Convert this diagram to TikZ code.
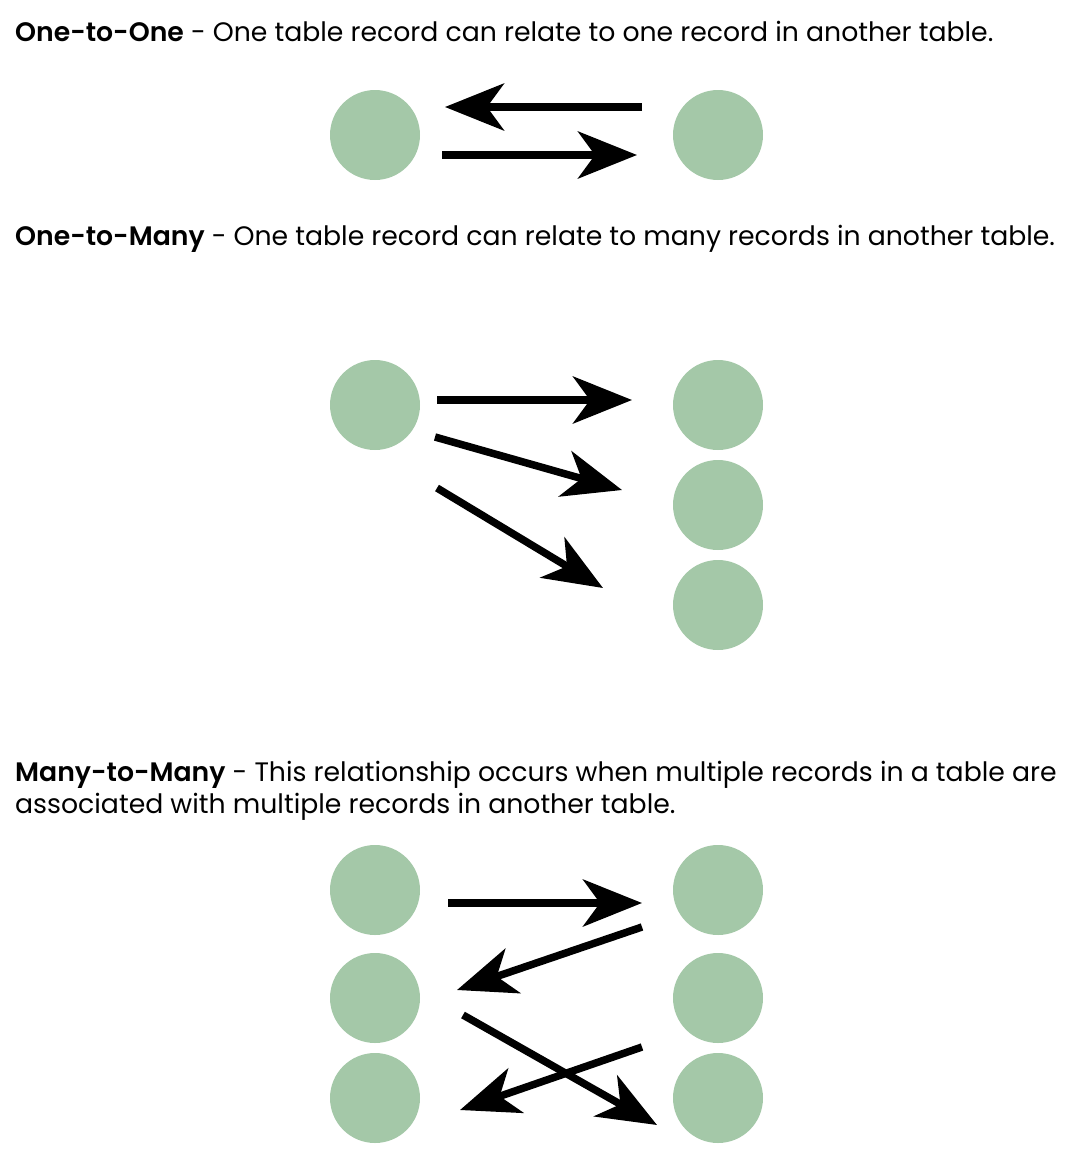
\documentclass[tikz,border=0pt]{standalone}
\usepackage{fontspec}
\setmainfont{Poppins}[BoldFont={Poppins SemiBold}]
\usetikzlibrary{arrows.meta}
\definecolor{rec}{RGB}{164,200,168}
\begin{document}
\begin{tikzpicture}[x=1pt,y=-1pt,
  recnode/.style={circle,fill=rec,minimum size=90pt,inner sep=0pt},
  rel/.style={line width=7.5pt,-{Stealth[length=59pt,width=47pt,inset=17pt]}},
  caption/.style={anchor=base west,inner sep=0pt,font=\fontsize{26.7}{32}\selectfont}]
\useasboundingbox (0,0) rectangle (1092,1152);
% texts
\node[caption] (t1) at (15,41) {\textbf{One-to-One} - One table record can relate to one record in another table.};
\node[caption] (t2) at (15,245) {\textbf{One-to-Many} - One table record can relate to many records in another table.};
\node[caption] (t3) at (15,781) {\textbf{Many-to-Many} - This relationship occurs when multiple records in a table are};
\node[caption] (t4) at (15,813) {associated with multiple records in another table.};
% one-to-one
\node[recnode] (a1) at (375,135) {};
\node[recnode] (b1) at (718,135) {};
\coordinate (a1t) at (445,107); \coordinate (b1t) at (642,107);
\coordinate (a1b) at (442,155); \coordinate (b1b) at (637,155);
\draw[rel] (b1t) -- (a1t);
\draw[rel] (a1b) -- (b1b);
% one-to-many
\node[recnode] (a2) at (375,405) {};
\node[recnode] (b2) at (718,405) {};
\node[recnode] (c2) at (718,505) {};
\node[recnode] (d2) at (718,605) {};
\coordinate (s21) at (437,400); \coordinate (e21) at (632,400);
\coordinate (s22) at (435,437); \coordinate (e22) at (622,490);
\coordinate (s23) at (437,488); \coordinate (e23) at (603,588);
\draw[rel] (s21) -- (e21);
\draw[rel] (s22) -- (e22);
\draw[rel] (s23) -- (e23);
% many-to-many
\node[recnode] (l1) at (375,890) {};
\node[recnode] (l2) at (375,998) {};
\node[recnode] (l3) at (375,1098) {};
\node[recnode] (r1) at (718,890) {};
\node[recnode] (r2) at (718,998) {};
\node[recnode] (r3) at (718,1098) {};
\coordinate (p1) at (448,903); \coordinate (q1) at (642,903);
\coordinate (p2) at (642,927); \coordinate (q2) at (457,990);
\coordinate (p3) at (463,1015); \coordinate (q3) at (657,1125);
\coordinate (p4) at (642,1047); \coordinate (q4) at (460,1110);
\draw[rel] (p1) -- (q1);
\draw[rel] (p2) -- (q2);
\draw[rel] (p3) -- (q3);
\draw[rel] (p4) -- (q4);
\end{tikzpicture}
\end{document}
